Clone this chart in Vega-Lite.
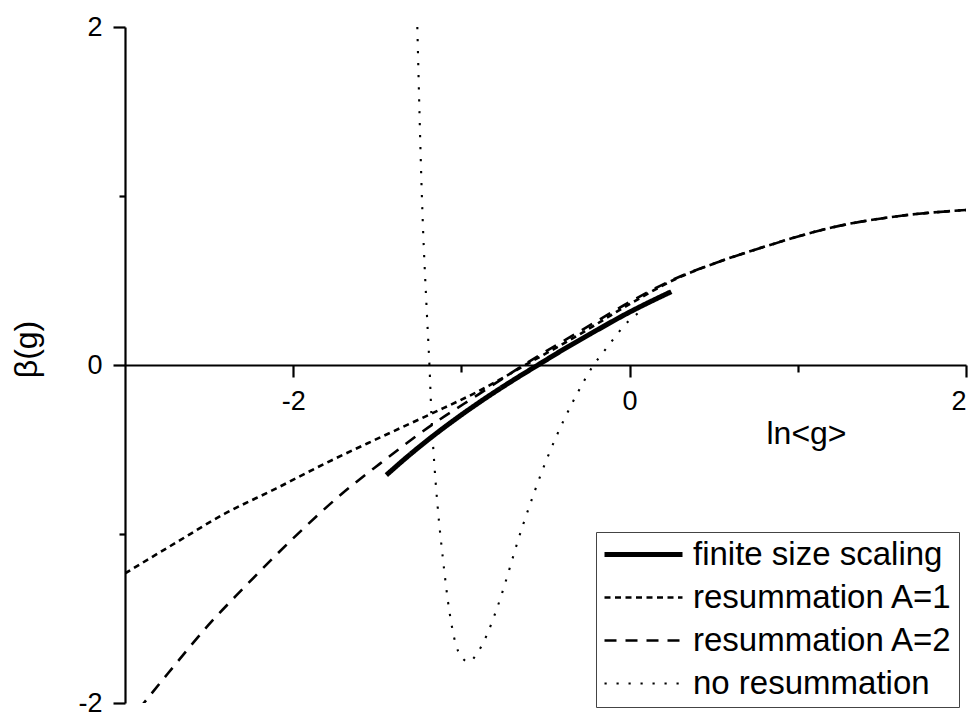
{
  "$schema": "https://vega.github.io/schema/vega-lite/v6.json",
  "width": 841,
  "height": 676,
  "autosize": {"type": "none"},
  "padding": {"left": 125, "top": 27, "right": 9, "bottom": 10},
  "background": "white",
  "config": {
    "view": {"stroke": null},
    "font": "Liberation Sans",
    "axis": {
      "grid": false,
      "domainColor": "black",
      "domainWidth": 2.2,
      "tickColor": "black",
      "tickWidth": 2.2,
      "labelFont": "Liberation Sans",
      "labelFontSize": 27,
      "labelColor": "black",
      "titleFont": "Liberation Sans",
      "titleFontSize": 32,
      "titleFontWeight": "normal",
      "titleColor": "black"
    }
  },
  "data": {
    "values": [
      {"series": "finite size scaling", "x": -1.446, "y": -0.651},
      {"series": "finite size scaling", "x": -1.3, "y": -0.525},
      {"series": "finite size scaling", "x": -1.169, "y": -0.42},
      {"series": "finite size scaling", "x": -1.0, "y": -0.295},
      {"series": "finite size scaling", "x": -0.892, "y": -0.22},
      {"series": "finite size scaling", "x": -0.7, "y": -0.095},
      {"series": "finite size scaling", "x": -0.545, "y": 0.0},
      {"series": "finite size scaling", "x": -0.4, "y": 0.088},
      {"series": "finite size scaling", "x": -0.2, "y": 0.203},
      {"series": "finite size scaling", "x": 0.0, "y": 0.313},
      {"series": "finite size scaling", "x": 0.12, "y": 0.373},
      {"series": "finite size scaling", "x": 0.248, "y": 0.434},

      {"series": "resummation A=1", "x": -3.0, "y": -1.233},
      {"series": "resummation A=1", "x": -2.7, "y": -1.053},
      {"series": "resummation A=1", "x": -2.407, "y": -0.88},
      {"series": "resummation A=1", "x": -2.1, "y": -0.73},
      {"series": "resummation A=1", "x": -1.813, "y": -0.584},
      {"series": "resummation A=1", "x": -1.486, "y": -0.43},
      {"series": "resummation A=1", "x": -1.189, "y": -0.293},
      {"series": "resummation A=1", "x": -0.892, "y": -0.152},
      {"series": "resummation A=1", "x": -0.62, "y": 0.0},
      {"series": "resummation A=1", "x": -0.3, "y": 0.18},
      {"series": "resummation A=1", "x": 0.0, "y": 0.36},
      {"series": "resummation A=1", "x": 0.28, "y": 0.512},
      {"series": "resummation A=1", "x": 0.515, "y": 0.605},
      {"series": "resummation A=1", "x": 0.812, "y": 0.703},
      {"series": "resummation A=1", "x": 1.208, "y": 0.815},
      {"series": "resummation A=1", "x": 1.605, "y": 0.882},
      {"series": "resummation A=1", "x": 2.0, "y": 0.917},

      {"series": "resummation A=2", "x": -2.92, "y": -2.04},
      {"series": "resummation A=2", "x": -2.744, "y": -1.824},
      {"series": "resummation A=2", "x": -2.486, "y": -1.519},
      {"series": "resummation A=2", "x": -2.306, "y": -1.331},
      {"series": "resummation A=2", "x": -2.011, "y": -1.036},
      {"series": "resummation A=2", "x": -1.714, "y": -0.765},
      {"series": "resummation A=2", "x": -1.486, "y": -0.585},
      {"series": "resummation A=2", "x": -1.169, "y": -0.35},
      {"series": "resummation A=2", "x": -0.9, "y": -0.175},
      {"series": "resummation A=2", "x": -0.63, "y": 0.0},
      {"series": "resummation A=2", "x": -0.3, "y": 0.197},
      {"series": "resummation A=2", "x": 0.0, "y": 0.372},
      {"series": "resummation A=2", "x": 0.28, "y": 0.515},
      {"series": "resummation A=2", "x": 0.515, "y": 0.605},
      {"series": "resummation A=2", "x": 0.812, "y": 0.703},
      {"series": "resummation A=2", "x": 1.208, "y": 0.815},
      {"series": "resummation A=2", "x": 1.605, "y": 0.882},
      {"series": "resummation A=2", "x": 2.0, "y": 0.917},

      {"series": "no resummation", "x": -1.262, "y": 2.0},
      {"series": "no resummation", "x": -1.235, "y": 1.0},
      {"series": "no resummation", "x": -1.205, "y": 0.3},
      {"series": "no resummation", "x": -1.19, "y": 0.0},
      {"series": "no resummation", "x": -1.178, "y": -0.3},
      {"series": "no resummation", "x": -1.16, "y": -0.6},
      {"series": "no resummation", "x": -1.141, "y": -0.84},
      {"series": "no resummation", "x": -1.111, "y": -1.136},
      {"series": "no resummation", "x": -1.07, "y": -1.467},
      {"series": "no resummation", "x": -1.016, "y": -1.7},
      {"series": "no resummation", "x": -0.957, "y": -1.757},
      {"series": "no resummation", "x": -0.909, "y": -1.71},
      {"series": "no resummation", "x": -0.85, "y": -1.6},
      {"series": "no resummation", "x": -0.79, "y": -1.444},
      {"series": "no resummation", "x": -0.636, "y": -0.953},
      {"series": "no resummation", "x": -0.487, "y": -0.544},
      {"series": "no resummation", "x": -0.297, "y": -0.142},
      {"series": "no resummation", "x": -0.226, "y": -0.018},
      {"series": "no resummation", "x": -0.137, "y": 0.1},
      {"series": "no resummation", "x": 0.0, "y": 0.266},
      {"series": "no resummation", "x": 0.06, "y": 0.314}
    ]
  },
  "mark": {"type": "line", "color": "black", "clip": true, "interpolate": "monotone"},
  "encoding": {
    "x": {
      "field": "x",
      "type": "quantitative",
      "scale": {"domain": [-3, 2], "nice": false, "zero": false},
      "axis": {
        "orient": "bottom",
        "offset": -338,
        "values": [-2, -1, 0, 1, 2],
        "labelExpr": "datum.value % 2 === 0 ? '' + datum.value : ''",
        "tickSize": {"condition": {"test": "datum.value % 2 === 0", "value": 12}, "value": 7},
        "labelPadding": 11,
        "title": "ln<g>",
        "titleX": 681,
        "titleY": 78,
        "titleAlign": "center",
        "titleBaseline": "alphabetic"
      }
    },
    "y": {
      "field": "y",
      "type": "quantitative",
      "scale": {"domain": [-2, 2], "nice": false, "zero": false},
      "axis": {
        "orient": "left",
        "values": [-2, -1, 0, 1, 2],
        "labelExpr": "datum.value % 2 === 0 ? '' + datum.value : ''",
        "tickSize": {"condition": {"test": "datum.value % 2 === 0", "value": 12}, "value": 6},
        "labelPadding": 11,
        "title": "β(g)",
        "titleX": -89,
        "titleY": 322,
        "titleAngle": 270,
        "titleAlign": "center",
        "titleBaseline": "alphabetic"
      }
    },
    "strokeDash": {
      "field": "series",
      "type": "nominal",
      "scale": {
        "domain": ["finite size scaling", "resummation A=1", "resummation A=2", "no resummation"],
        "range": [[1, 0], [6, 4.5], [12, 9], [2.2, 9.8]]
      },
      "legend": {
        "orient": "none",
        "legendX": 471,
        "legendY": 505,
        "title": null,
        "strokeColor": "#444",
        "fillColor": "white",
        "padding": 6,
        "symbolType": "stroke",
        "symbolSize": 6084,
        "symbolStrokeColor": "black",
        "labelFont": "Liberation Sans",
        "labelFontSize": 33,
        "labelColor": "black",
        "labelLimit": 500,
        "clipHeight": 33,
        "rowPadding": 9,
        "labelOffset": 8
      }
    },
    "strokeWidth": {
      "field": "series",
      "type": "nominal",
      "scale": {
        "type": "ordinal",
        "domain": ["finite size scaling", "resummation A=1", "resummation A=2", "no resummation"],
        "range": [5, 2.6, 2.6, 2.1]
      },
      "legend": {
        "orient": "none",
        "legendX": 471,
        "legendY": 505,
        "title": null,
        "strokeColor": "#444",
        "fillColor": "white",
        "padding": 6,
        "symbolType": "stroke",
        "symbolSize": 6084,
        "symbolStrokeColor": "black",
        "labelFont": "Liberation Sans",
        "labelFontSize": 33,
        "labelColor": "black",
        "labelLimit": 500,
        "clipHeight": 33,
        "rowPadding": 9,
        "labelOffset": 8
      }
    }
  }
}
